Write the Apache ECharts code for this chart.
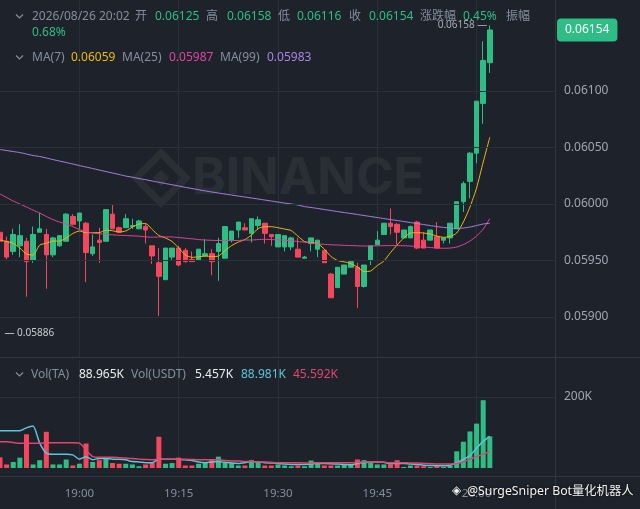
<!DOCTYPE html>
<html><head><meta charset="utf-8">
<script src="https://cdn.jsdelivr.net/npm/echarts@6/dist/echarts.min.js"></script>
<style>html,body{margin:0;padding:0;background:#1e232b;}#c{width:640px;height:509px;}</style>
</head><body><div id="c"></div>
<script>
// ---- data (1-minute candles, 18:48 .. 20:02) ----
const opens = [0.05975,0.05967,0.05958,0.05963,0.05967,0.05950,0.05975,0.05973,0.05955,0.05963,
0.05967,0.05989,0.05985,0.05983,0.05956,0.05968,0.05967,0.05991,0.05979,0.05979,
0.05980,0.05978,0.05980,0.05963,0.05948,0.05933,0.05953,0.05961,0.05959,0.05951,
0.05950,0.05954,0.05956,0.05958,0.05952,0.05968,0.05977,0.05979,0.05974,0.05981,
0.05983,0.05973,0.05962,0.05962,0.05962,0.05960,0.05952,0.05965,0.05960,0.05959,
0.05938,0.05926,0.05938,0.05944,0.05944,0.05927,0.05950,0.05964,0.05973,0.05983,
0.05982,0.05970,0.05970,0.05984,0.05968,0.05968,0.05971,0.05968,0.05970,0.05978,
0.06002,0.06020,0.06045,0.06089,0.06125];
const closes = [0.05967,0.05953,0.05973,0.05972,0.05949,0.05973,0.05978,0.05955,0.05970,0.05972,
0.05991,0.05982,0.05992,0.05957,0.05962,0.05966,0.05995,0.05978,0.05975,0.05987,
0.05981,0.05985,0.05977,0.05954,0.05936,0.05961,0.05961,0.05946,0.05949,0.05949,
0.05960,0.05956,0.05949,0.05965,0.05980,0.05976,0.05984,0.05977,0.05987,0.05986,
0.05974,0.05971,0.05973,0.05972,0.05970,0.05953,0.05953,0.05970,0.05968,0.05948,
0.05917,0.05944,0.05946,0.05949,0.05927,0.05946,0.05963,0.05968,0.05983,0.05980,
0.05975,0.05977,0.05980,0.05961,0.05961,0.05977,0.05961,0.05970,0.05983,0.06002,
0.06018,0.06045,0.06091,0.06127,0.06154];
const lows = [0.05886,0.05951,0.05955,0.05953,0.05918,0.05948,0.05975,0.05925,0.05953,0.05962,
0.05967,0.05981,0.05978,0.05931,0.05954,0.05948,0.05967,0.05978,0.05975,0.05979,
0.05978,0.05978,0.05965,0.05947,0.05901,0.05933,0.05950,0.05945,0.05948,0.05949,
0.05950,0.05954,0.05937,0.05932,0.05952,0.05966,0.05970,0.05977,0.05966,0.05977,
0.05965,0.05963,0.05962,0.05958,0.05959,0.05953,0.05952,0.05958,0.05953,0.05948,
0.05917,0.05926,0.05938,0.05944,0.05908,0.05926,0.05946,0.05964,0.05973,0.05973,
0.05964,0.05970,0.05970,0.05960,0.05961,0.05968,0.05961,0.05965,0.05965,0.05978,
0.05993,0.06005,0.06036,0.06071,0.06116];
const highs = [0.05978,0.05971,0.05978,0.05982,0.05970,0.05980,0.05992,0.05978,0.05971,0.05972,
0.05992,0.05991,0.05992,0.05984,0.05973,0.05979,0.05995,0.05999,0.05980,0.05991,
0.05987,0.05986,0.05983,0.05963,0.05961,0.05961,0.05961,0.05963,0.05961,0.05958,
0.05960,0.05969,0.05960,0.05970,0.05980,0.05976,0.05984,0.05983,0.05987,0.05989,
0.05983,0.05973,0.05973,0.05972,0.05971,0.05970,0.05954,0.05970,0.05968,0.05959,
0.05939,0.05944,0.05946,0.05950,0.05948,0.05946,0.05963,0.05976,0.05983,0.05996,
0.05983,0.05977,0.05981,0.05985,0.05975,0.05977,0.05984,0.05970,0.05983,0.06002,
0.06020,0.06046,0.06091,0.06144,0.06158];
const volumes = [30000,10000,17000,29000,95000,10000,22000,102000,10000,10000,
24000,7000,12000,69000,17000,22000,27000,14000,12000,12000,
10000,5000,10000,14000,88000,12000,14000,29000,7000,7000,
12000,17000,24000,32000,17000,14000,7000,7000,22000,18000,
7000,7000,10000,7000,5000,7000,5000,21000,14000,7000,
7000,7000,10000,10000,24000,22000,14000,10000,10000,10000,
22000,3000,7000,7000,5000,3000,5000,3000,7000,47000,
74000,103000,125000,191000,88965];
const ma7 = [0.059681,0.059668,0.059652,0.059610,0.059557,0.059548,0.059637,0.059652,0.059672,0.059672,
0.059699,0.059739,0.059761,0.059746,0.059746,0.059746,0.059769,0.059763,0.059752,0.059761,
0.059796,0.059823,0.059827,0.059774,0.059721,0.059699,0.059668,0.059610,0.059548,0.059528,
0.059532,0.059539,0.059535,0.059539,0.059588,0.059632,0.059663,0.059685,0.059725,0.059783,
0.059799,0.059799,0.059790,0.059778,0.059765,0.059716,0.059668,0.059658,0.059650,0.059601,
0.059535,0.059500,0.059488,0.059473,0.059442,0.059402,0.059407,0.059455,0.059495,0.059570,
0.059637,0.059700,0.059743,0.059746,0.059743,0.059734,0.059716,0.059705,0.059712,0.059743,
0.059840,0.059973,0.060141,0.060371,0.060590];
const ma25 = [0.060088,0.060057,0.060026,0.060000,0.059973,0.059946,0.059920,0.059889,0.059862,0.059840,
0.059823,0.059800,0.059774,0.059756,0.059743,0.059737,0.059731,0.059727,0.059723,0.059721,
0.059718,0.059715,0.059709,0.059706,0.059708,0.059709,0.059708,0.059703,0.059697,0.059692,
0.059685,0.059681,0.059678,0.059677,0.059677,0.059676,0.059677,0.059681,0.059681,0.059685,
0.059687,0.059685,0.059683,0.059679,0.059674,0.059668,0.059662,0.059654,0.059647,0.059643,
0.059639,0.059637,0.059634,0.059632,0.059630,0.059628,0.059628,0.059630,0.059631,0.059632,
0.059632,0.059630,0.059628,0.059623,0.059619,0.059615,0.059610,0.059608,0.059610,0.059619,
0.059641,0.059672,0.059716,0.059778,0.059870];
const ma99 = [0.060482,0.060473,0.060464,0.060455,0.060442,0.060429,0.060420,0.060407,0.060393,0.060380,
0.060367,0.060354,0.060340,0.060327,0.060314,0.060300,0.060287,0.060274,0.060261,0.060247,
0.060237,0.060225,0.060215,0.060203,0.060192,0.060181,0.060170,0.060159,0.060147,0.060137,
0.060126,0.060116,0.060106,0.060097,0.060088,0.060079,0.060070,0.060062,0.060053,0.060044,
0.060035,0.060026,0.060017,0.060008,0.060000,0.059991,0.059977,0.059969,0.059960,0.059951,
0.059942,0.059933,0.059924,0.059916,0.059907,0.059898,0.059889,0.059880,0.059871,0.059862,
0.059854,0.059845,0.059836,0.059827,0.059818,0.059809,0.059800,0.059793,0.059787,0.059783,
0.059787,0.059796,0.059809,0.059823,0.059830];
const volMaA = [105000,105000,105000,105000,113000,118000,70000,42000,39000,39000,
39000,37000,25000,32000,23000,27000,27000,25000,25000,23000,
18000,17000,15000,15000,25000,25000,25000,25000,23000,21000,
17000,15000,17000,18000,16000,14000,13000,15000,18000,17000,
15000,14000,13000,11000,10000,10000,10000,11000,13000,13000,
12000,11000,10000,9000,13000,15000,17000,17000,16000,12000,
13000,13000,11000,10000,8000,7000,6000,6000,8000,15000,
24000,35000,56000,75000,88981];
const volMaB = [74000,74000,72000,70000,70000,70000,70000,71000,71000,71000,
71000,71000,70000,51000,32000,30000,30000,30000,29000,28000,
27000,25000,24000,23000,25000,25000,25000,25000,25000,24000,
23000,23000,23000,23000,21000,20000,20000,18000,18000,17000,
17000,16000,15000,15000,15000,15000,14000,14000,15000,15000,
15000,15000,15000,15000,16000,17000,17000,17000,16000,15000,
15000,15000,14000,14000,13000,12000,11000,11000,11000,13000,
17000,25000,32000,39000,45592];
const priceTicks = [0.05900, 0.05950, 0.06000, 0.06050, 0.06100];
const volTicks = [200000];
const headerDate = '2026/08/26 20:02';
const changePct = '0.45%';
const amplitude = '0.68%';
const volUsdt = '5.457K';
// minute categories 18:48 .. 20:12 (last 10 empty)
const times = [];
for (let i = 0; i < 85; i++) { const m = 48 + i; times.push((18 + Math.floor(m / 60)) + ':' + String(m % 60).padStart(2, '0')); }

// ---- styling ----
const BG = '#1e232b', GRIDC = '#2a303a', GREEN = '#2ebd85', RED = '#f6465d', GRAY = '#848e9c', LIGHT = '#eaecef';
const YEL = '#f0b90b', PINK = '#e0449f', PURP = '#a982e6', CYAN = '#5ec4dc', VPINK = '#e0466e';
const FONT = '"Noto Sans","Noto Sans CJK SC",sans-serif';

const n = opens.length;
const pad = a => times.map((t, i) => i < a.length ? a[i] : '-');
const candles = times.map((t, i) => i < n ? [opens[i], closes[i], lows[i], highs[i]] : '-');
let lowIdx = 0, hiIdx = 0;
for (let i = 0; i < n; i++) { if (lows[i] < lows[lowIdx]) lowIdx = i; if (highs[i] > highs[hiIdx]) hiIdx = i; }
const L = n - 1;
const fmtK = v => (v / 1000).toFixed(3) + 'K';
const isQuarter = idx => (48 + idx) % 15 === 0;

// ---- header texts (layout) ----
const graphics = [];
function txt(x, y, s, color, size) {
  graphics.push({ type: 'text', z: 50, style: { x: x, y: y, text: s, fill: color, font: (size || 12) + 'px ' + FONT, verticalAlign: 'middle' } });
}
function chevron(y) {
  graphics.push({ type: 'polyline', z: 50, shape: { points: [[16, y - 2.5], [19.5, y + 1], [23, y - 2.5]] }, style: { stroke: GRAY, lineWidth: 1.2, fill: null } });
}
chevron(17); chevron(58); chevron(375);
[[32, headerDate, GRAY], [135, '开', GRAY], [155, opens[L].toFixed(5), GREEN], [206, '高', GRAY], [227, highs[L].toFixed(5), GREEN],
 [278, '低', GRAY], [297, lows[L].toFixed(5), GREEN], [349, '收', GRAY], [369, closes[L].toFixed(5), GREEN],
 [420, '涨跌幅', GRAY], [463, changePct, GREEN], [506, '振幅', GRAY]].forEach(a => txt(a[0], 17, a[1], a[2]));
txt(32, 33, amplitude, GREEN);
[[32, 'MA(7)', GRAY], [71, ma7[L].toFixed(5), YEL], [122, 'MA(25)', GRAY], [169, ma25[L].toFixed(5), PINK],
 [220, 'MA(99)', GRAY], [267, ma99[L].toFixed(5), PURP]].forEach(a => txt(a[0], 58, a[1], a[2]));
[[31, 'Vol(TA)', GRAY], [79, fmtK(volumes[L]), LIGHT], [131, 'Vol(USDT)', GRAY], [195, volUsdt, LIGHT],
 [241, fmtK(volMaA[L]), CYAN], [293, fmtK(volMaB[L]), VPINK]].forEach(a => txt(a[0], 375, a[1], a[2]));
// pane borders
graphics.push({ type: 'line', z: 1, shape: { x1: 0, y1: 357.5, x2: 640, y2: 357.5 }, style: { stroke: '#313742', lineWidth: 1 } });
graphics.push({ type: 'line', z: 1, shape: { x1: 0, y1: 476.5, x2: 640, y2: 476.5 }, style: { stroke: '#313742', lineWidth: 1 } });
graphics.push({ type: 'line', z: 1, shape: { x1: 555.5, y1: 0, x2: 555.5, y2: 509 }, style: { stroke: '#313742', lineWidth: 1 } });
// watermark
const WM = 'rgba(255,255,255,0.055)';
graphics.push({ type: 'polygon', z: 0, shape: { points: [[161, 153], [186, 178], [161, 203], [136, 178]] }, style: { stroke: WM, lineWidth: 7, fill: null } });
graphics.push({ type: 'polygon', z: 0, shape: { points: [[161, 170], [169, 178], [161, 186], [153, 178]] }, style: { fill: WM } });
graphics.push({ type: 'text', z: 0, style: { x: 192, y: 179, text: 'BINANCE', fill: WM, font: 'bold 51px Inter, "Open Sans", sans-serif', verticalAlign: 'middle' } });
// bottom-right watermark
graphics.push({ type: 'text', z: 100, style: { x: 452, y: 491, text: '◈', fill: '#f2f2f2', font: '12px "DejaVu Sans"', verticalAlign: 'middle', textShadowColor: 'rgba(0,0,0,0.9)', textShadowBlur: 3 } });
graphics.push({ type: 'text', z: 100, style: { x: 467, y: 491, text: '@SurgeSniper Bot量化机器人', fill: '#f2f2f2', font: '12.3px ' + FONT, verticalAlign: 'middle', textShadowColor: 'rgba(0,0,0,0.9)', textShadowBlur: 3 } });

const chart = echarts.init(document.getElementById('c'), null, { renderer: 'canvas' });
chart.setOption({
  backgroundColor: BG,
  animation: false,
  graphic: graphics,
  grid: [
    { left: -4, width: 560, top: 0, height: 357 },
    { left: -4, width: 560, top: 360, height: 108 }
  ],
  xAxis: [
    { type: 'category', gridIndex: 0, data: times, boundaryGap: false,
      axisLine: { show: false }, axisTick: { show: false }, axisLabel: { show: false },
      splitLine: { show: true, interval: isQuarter, lineStyle: { color: GRIDC } } },
    { type: 'category', gridIndex: 1, data: times, boundaryGap: false,
      axisLine: { show: false }, axisTick: { show: false },
      axisLabel: { show: true, interval: isQuarter, color: GRAY, fontSize: 11.5, fontFamily: FONT, margin: 20 },
      splitLine: { show: true, interval: isQuarter, lineStyle: { color: GRIDC } } }
  ],
  yAxis: [
    { type: 'value', gridIndex: 0, position: 'right', min: 0.058646, max: 0.061805, splitNumber: 6,
      axisLine: { show: false }, axisTick: { show: false },
      axisLabel: { color: '#a0a6b0', fontSize: 12, fontFamily: FONT, margin: 8,
        formatter: v => priceTicks.some(t => Math.abs(t - v) < 1e-8) ? v.toFixed(5) : '' },
      splitLine: { show: false } },
    { type: 'value', gridIndex: 1, position: 'right', min: 0, max: 304225, interval: 200000,
      axisLine: { show: false }, axisTick: { show: false },
      axisLabel: { color: '#a0a6b0', fontSize: 12, fontFamily: FONT, margin: 8,
        formatter: v => volTicks.indexOf(v) >= 0 ? (v / 1000) + 'K' : '' },
      splitLine: { show: true, showMinLine: false, showMaxLine: false, lineStyle: { color: GRIDC } } }
  ],
  series: [
    // horizontal price grid lines
    { type: 'line', xAxisIndex: 0, yAxisIndex: 0, data: pad([]), z: 1, silent: true,
      markLine: { silent: true, precision: 8, symbol: ['none', 'none'], animation: false, label: { show: false },
        lineStyle: { color: GRIDC, type: 'solid', width: 1 }, emphasis: { disabled: true },
        data: priceTicks.map(v => ({ yAxis: v })) } },
    { type: 'candlestick', xAxisIndex: 0, yAxisIndex: 0, data: candles, barWidth: 5, z: 2,
      itemStyle: { color: GREEN, color0: RED, borderColor: GREEN, borderColor0: RED, borderWidth: 1 },
      markPoint: { silent: true, animation: false, symbol: 'circle', symbolSize: 1, itemStyle: { color: 'rgba(0,0,0,0)' },
        data: [
          { coord: [times[lowIdx], lows[lowIdx]], label: { show: true, position: 'right', distance: 4, formatter: '— ' + lows[lowIdx].toFixed(5), color: '#c8ccd2', fontSize: 10, fontFamily: FONT } },
          { coord: [times[hiIdx], highs[hiIdx]], label: { show: true, position: 'left', distance: 2, formatter: highs[hiIdx].toFixed(5) + ' —', color: '#a6abb3', fontSize: 10, fontFamily: FONT } }
        ] } },
    { type: 'line', xAxisIndex: 0, yAxisIndex: 0, data: pad(ma7), symbol: 'none', smooth: 0.2, z: 3, lineStyle: { color: YEL, width: 1 } },
    { type: 'line', xAxisIndex: 0, yAxisIndex: 0, data: pad(ma25), symbol: 'none', smooth: 0.2, z: 3, lineStyle: { color: PINK, width: 1 } },
    { type: 'line', xAxisIndex: 0, yAxisIndex: 0, data: pad(ma99), symbol: 'none', smooth: 0.2, z: 3, lineStyle: { color: PURP, width: 1 } },
    // last price tag
    { type: 'line', xAxisIndex: 0, yAxisIndex: 0, data: pad([]), z: 5, silent: true,
      markLine: { silent: true, precision: 8, symbol: ['none', 'none'], animation: false,
        lineStyle: { color: 'rgba(0,0,0,0)', width: 0 }, emphasis: { disabled: true },
        label: { show: true, position: 'end', distance: 1, formatter: closes[L].toFixed(5), color: '#ffffff',
          backgroundColor: GREEN, padding: [6, 8, 5, 8], borderRadius: 4, fontSize: 12, fontFamily: FONT },
        data: [{ yAxis: closes[L] }] } },
    { type: 'bar', xAxisIndex: 1, yAxisIndex: 1, data: pad(volumes), barWidth: 5,
      itemStyle: { color: p => closes[p.dataIndex] >= opens[p.dataIndex] ? GREEN : RED } },
    { type: 'line', xAxisIndex: 1, yAxisIndex: 1, data: pad(volMaA), symbol: 'none', smooth: 0.2, z: 3, lineStyle: { color: CYAN, width: 1.5 } },
    { type: 'line', xAxisIndex: 1, yAxisIndex: 1, data: pad(volMaB), symbol: 'none', smooth: 0.2, z: 3, lineStyle: { color: VPINK, width: 1.5 } }
  ]
});
</script>
</body></html>
